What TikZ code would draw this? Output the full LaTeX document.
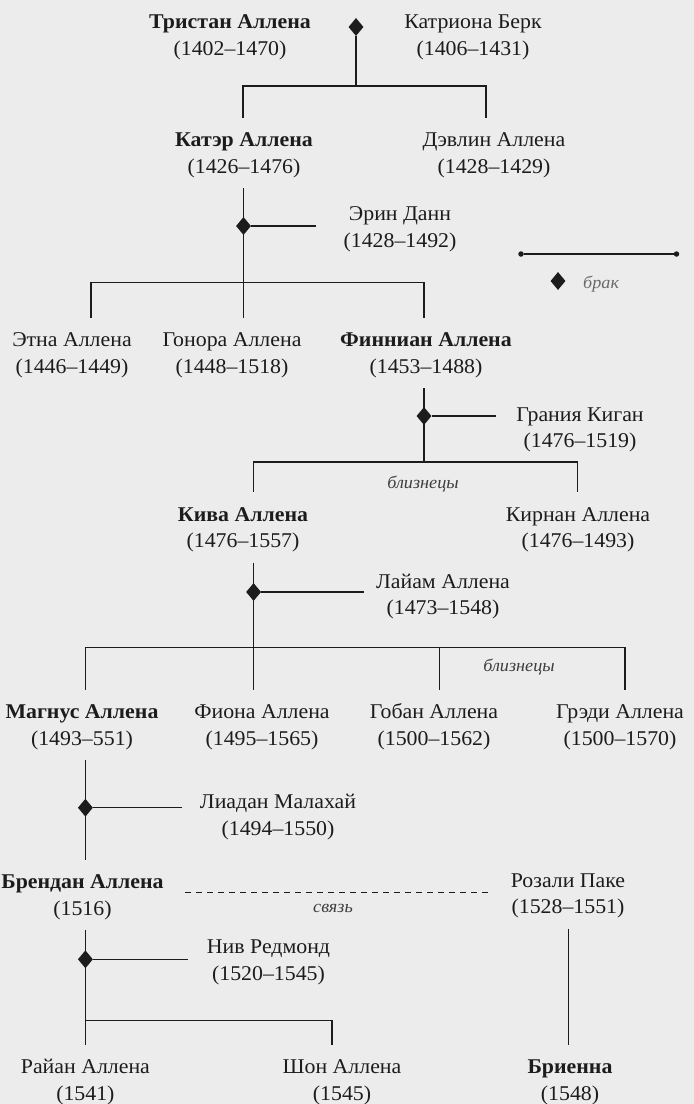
\documentclass[tikz,border=0pt]{standalone}
\usepackage{fontspec}
\setmainfont{Liberation Serif}[FakeStretch=1.04]
\usetikzlibrary{shapes.geometric}
\definecolor{bg}{HTML}{ECECEC}
\definecolor{ink}{HTML}{1C1C1C}
\definecolor{soft}{HTML}{6A6A6A}
\newcommand{\pp}[2]{\rule{0pt}{20pt}#1\\#2\rule[-6pt]{0pt}{6pt}}
\begin{document}
\begin{tikzpicture}[x=1pt,y=-1pt,
  person/.style={align=center, minimum height=70pt, inner sep=0pt, text=ink, font=\fontsize{21}{26.5}\selectfont},
  mar/.style={diamond, fill=ink, minimum width=15pt, minimum height=18pt, inner sep=0pt},
  ln/.style={draw=ink, line width=1.3pt},
  rel/.style={draw=ink, line width=1.2pt, dash pattern=on 6pt off 5pt},
  note/.style={font=\fontsize{17.5}{19}\selectfont\itshape, text=ink!85, inner sep=0pt},
  dot/.style={circle, fill=ink, inner sep=0pt, minimum size=5.5pt}
]
\fill[bg] (0,0) rectangle (694,1104);
\useasboundingbox (0,0) rectangle (694,1104);

% people
\node[person] (tristan) at (230,35) {\pp{\textbf{Тристан Аллена}}{(1402–1470)}};
\node[person] (katriona) at (473,35) {\pp{Катриона Берк}{(1406–1431)}};
\node[person] (kater) at (244,153) {\pp{\textbf{Катэр Аллена}}{(1426–1476)}};
\node[person] (devlin) at (494,153) {\pp{Дэвлин Аллена}{(1428–1429)}};
\node[person] (erin) at (400,227) {\pp{Эрин Данн}{(1428–1492)}};
\node[person] (etna) at (72,353) {\pp{Этна Аллена}{(1446–1449)}};
\node[person] (gonora) at (232,353) {\pp{Гонора Аллена}{(1448–1518)}};
\node[person] (finnian) at (426,353) {\pp{\textbf{Финниан Аллена}}{(1453–1488)}};
\node[person] (grania) at (580,427.5) {\pp{Грания Киган}{(1476–1519)}};
\node[person] (kiva) at (243,527.5) {\pp{\textbf{Кива Аллена}}{(1476–1557)}};
\node[person] (kirnan) at (578,527.5) {\pp{Кирнан Аллена}{(1476–1493)}};
\node[person] (liam) at (443,594.5) {\pp{Лайам Аллена}{(1473–1548)}};
\node[person] (magnus) at (82,725) {\pp{\textbf{Магнус Аллена}}{(1493–551)}};
\node[person] (fiona) at (262,725) {\pp{Фиона Аллена}{(1495–1565)}};
\node[person] (goban) at (434,725) {\pp{Гобан Аллена}{(1500–1562)}};
\node[person] (gredi) at (620,725) {\pp{Грэди Аллена}{(1500–1570)}};
\node[person] (liadan) at (278,815) {\pp{Лиадан Малахай}{(1494–1550)}};
\node[person] (brendan) at (82.5,895) {\pp{\textbf{Брендан Аллена}}{(1516)}};
\node[person] (rosali) at (568,893.3) {\pp{Розали Паке}{(1528–1551)}};
\node[person] (niv) at (268.5,960) {\pp{Нив Редмонд}{(1520–1545)}};
\node[person] (rayan) at (85.4,1080) {\pp{Райан Аллена}{(1541)}};
\node[person] (shon) at (342,1080) {\pp{Шон Аллена}{(1545)}};
\node[person] (brienna) at (570,1080) {\pp{\textbf{Бриенна}}{(1548)}};

% marriages
\node[mar] (m1) at (356,27) {};
\node[mar] (m2) at (243.5,226) {};
\node[mar] (m3) at (424,416) {};
\node[mar] (m4) at (253.6,592) {};
\node[mar] (m5) at (85.4,807.7) {};
\node[mar] (m6) at (85.4,959.3) {};

% sibling bars
\coordinate (b1) at (356,86);
\coordinate (b2) at (243.5,282.7);
\coordinate (b3) at (424,462);
\coordinate (b4) at (253.6,647.7);
\coordinate (b6) at (85.4,1020.7);

% notes
\node[note] (tw1) at (423,483.5) {близнецы};
\node[note] (tw2) at (519,667) {близнецы};
\node[note] (sv) at (333,908) {связь};

% family 1
\draw[ln] (m1) -- (b1);
\draw[ln] (b1) -| ([xshift=-1pt]kater.north);
\draw[ln] (b1) -| ([xshift=-8pt]devlin.north);

% family 2
\draw[ln] (kater.south -| m2) -- (gonora.north -| m2);
\draw[ln, shorten >=84pt] (m2) -- ([yshift=1pt]erin.center);
\draw[ln] (b2) -| ([xshift=19pt]etna.north);
\draw[ln] (b2) -| ([xshift=-2pt]finnian.north);

% family 3
\draw[ln] (finnian.south -| m3) -- (b3);
\draw[ln, shorten >=84pt] (m3) -- ([yshift=11.5pt]grania.center);
\draw[ln] (b3) -| ([xshift=10.6pt]kiva.north);
\draw[ln] (b3) -| ([xshift=-0.4pt]kirnan.north);

% family 4
\draw[ln] (kiva.south -| m4) -- (fiona.north -| m4);
\draw[ln, shorten >=79pt] (m4) -- ([yshift=2.5pt]liam.center);
\draw[ln] (b4) -| ([xshift=3.4pt]magnus.north);
\draw[ln] (b4) -| ([xshift=5.5pt]goban.north);
\draw[ln] (b4) -| ([xshift=5pt]gredi.north);

% family 5
\draw[ln] (magnus.south -| m5) -- (brendan.north -| m5);
\draw[ln, shorten >=96pt] (m5) -- ([yshift=7.3pt]liadan.center);

% family 6
\draw[ln] (brendan.south -| m6) -- (rayan.north -| m6);
\draw[ln, shorten >=80.5pt] (m6) -- ([yshift=0.7pt]niv.center);
\draw[ln] (b6) -| ([xshift=-10pt]shon.north);

% liaison
\draw[rel, shorten <=102.5pt, shorten >=78pt] ([yshift=2.7pt]brendan.center) -- ([yshift=1pt]rosali.center);
\draw[ln] ([xshift=0.5pt]rosali.south) -- ([xshift=-1.5pt]brienna.north);

% legend
\node[dot] (l1) at (521,254) {};
\node[dot] (l2) at (676.5,254) {};
\draw[ln] (l1) -- (l2);
\node[mar] (lm) at (558,281) {};
\node[note, text=soft, anchor=west] (lt) at (583,284) {брак};
\end{tikzpicture}
\end{document}
